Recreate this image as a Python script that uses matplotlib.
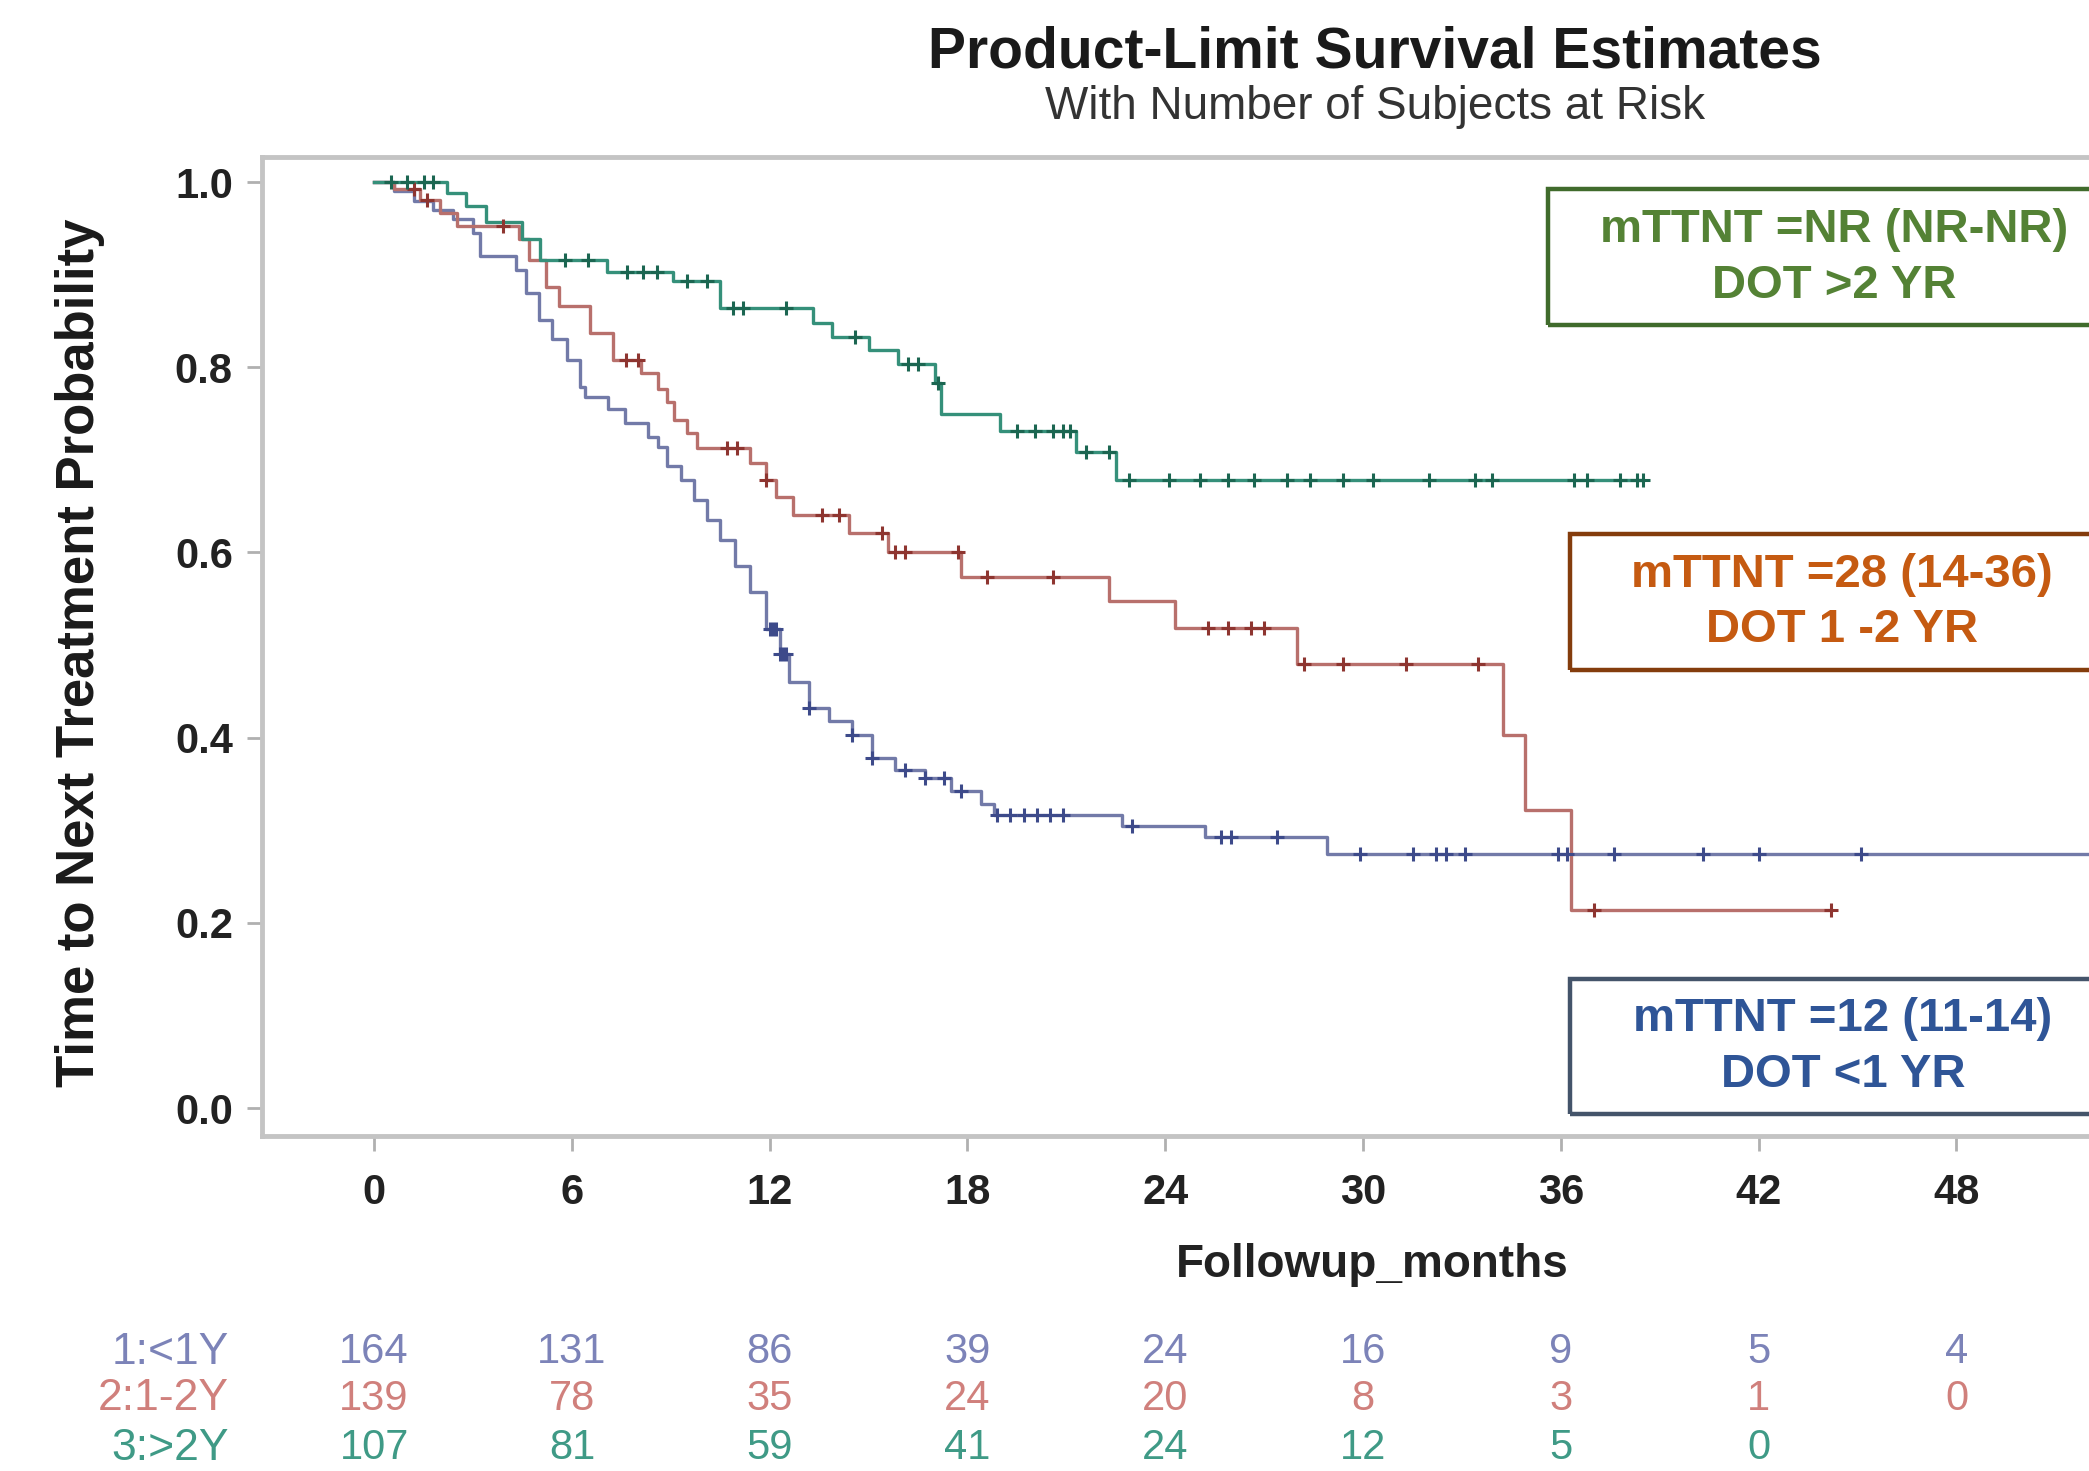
import numpy as np
import matplotlib
matplotlib.use("Agg")
import matplotlib.pyplot as plt
from matplotlib.patches import Rectangle
from matplotlib.transforms import blended_transform_factory

plt.rcParams["font.family"] = ["Liberation Sans", "DejaVu Sans"]

# ── data ────────────────────────────────────────────────────
# 1:<1Y
blue_t = [0, 0.6, 1.2, 1.8, 2.4, 3.0, 3.2, 4.3, 4.6, 5.0, 5.4, 5.85, 6.25, 6.4,
          7.1, 7.6, 8.3, 8.6, 8.9, 9.3, 9.7, 10.1, 10.5, 10.95, 11.4, 11.9,
          12.3, 12.6, 13.2, 13.8, 14.5, 15.1, 15.8, 16.7, 17.5, 18.4, 18.8,
          22.7, 25.2, 28.9]
blue_s = [1.0, 0.99, 0.98, 0.97, 0.96, 0.945, 0.92, 0.905, 0.88, 0.851, 0.83,
          0.808, 0.779, 0.768, 0.755, 0.74, 0.725, 0.714, 0.693, 0.678, 0.657,
          0.635, 0.614, 0.585, 0.557, 0.517, 0.49, 0.46, 0.432, 0.418, 0.403,
          0.378, 0.365, 0.356, 0.342, 0.328, 0.317, 0.305, 0.293, 0.275]
blue_end = 54
blue_cens = [12.0, 12.1, 12.2, 12.3, 12.4, 12.5, 13.2, 14.5, 15.1, 16.1, 16.7,
             17.3, 17.8, 18.9, 19.3, 19.7, 20.1, 20.5, 20.9, 23.0, 25.7, 26.0,
             27.4, 29.9, 31.5, 32.2, 32.5, 33.1, 35.9, 36.2, 37.6, 40.3, 42.0,
             45.1]

# 2:1-2Y
red_t = [0, 0.6, 1.4, 2.0, 2.5, 4.4, 4.7, 5.2, 5.6, 6.55, 7.25, 8.1, 8.6, 8.9,
         9.1, 9.5, 9.8, 11.4, 11.9, 12.2, 12.7, 14.4, 15.6, 17.8, 22.3, 24.3,
         28.0, 34.25, 34.9, 36.3]
red_s = [1.0, 0.992, 0.981, 0.967, 0.952, 0.938, 0.916, 0.887, 0.866, 0.837,
         0.808, 0.794, 0.776, 0.762, 0.743, 0.729, 0.713, 0.697, 0.678, 0.66,
         0.641, 0.621, 0.60, 0.574, 0.548, 0.519, 0.48, 0.403, 0.322, 0.214]
red_end = 44.2
red_cens = [1.2, 1.6, 3.9, 7.65, 8.0, 10.7, 11.0, 11.9, 13.6, 14.1, 15.4, 15.8,
            16.1, 17.7, 18.6, 20.6, 25.3, 25.9, 26.6, 27.0, 28.2, 29.4, 31.3,
            33.5, 37.0, 44.2]

# 3:>2Y
green_t = [0, 2.2, 2.8, 3.4, 4.5, 5.03, 7.06, 9.07, 10.5, 13.3, 13.9, 15.0,
           15.9, 17.0, 17.2, 19.0, 21.3, 22.5]
green_s = [1.0, 0.988, 0.974, 0.957, 0.938, 0.916, 0.903, 0.893, 0.864, 0.848,
           0.833, 0.819, 0.803, 0.783, 0.749, 0.731, 0.708, 0.678]
green_end = 38.5
green_cens = [0.5, 1.0, 1.5, 1.8, 5.8, 6.5, 7.66, 8.17, 8.57, 9.48, 10.1, 10.9,
              11.2, 12.5, 14.6, 16.2, 16.5, 17.1, 19.5, 20.05, 20.6, 20.9,
              21.1, 21.6, 22.3, 22.9, 24.1, 25.05, 25.9, 26.7, 27.7, 28.4, 29.4,
              30.3, 32.0, 33.4, 33.9, 36.4, 36.8, 37.8, 38.3, 38.5]

# number at risk
risk_times = [0, 6, 12, 18, 24, 30, 36, 42, 48]
risk_labels = ["1:<1Y", "2:1-2Y", "3:>2Y"]
risk_blue = [164, 131, 86, 39, 24, 16, 9, 5, 4]
risk_red = [139, 78, 35, 24, 20, 8, 3, 1, 0]
risk_green = [107, 81, 59, 41, 24, 12, 5, 0, None]

x_ticks = [0, 6, 12, 18, 24, 30, 36, 42, 48]
y_ticks = [0.0, 0.2, 0.4, 0.6, 0.8, 1.0]

annotations = [
    ("mTTNT =NR (NR-NR)", "DOT >2 YR", "#548235", "#406b2c"),
    ("mTTNT =28 (14-36)", "DOT 1 -2 YR", "#c55a11", "#843c0c"),
    ("mTTNT =12 (11-14)", "DOT <1 YR", "#2f5597", "#44546a"),
]

# ── figure ──────────────────────────────────────────────────
W, H = 2089, 1471
fig = plt.figure(figsize=(W / 100, H / 100), dpi=100)


def fx(px):
    return px / W


def fy(py):
    return 1 - py / H


ax = fig.add_axes([fx(262), fy(1136), fx(2120 - 262), (1136 - 157) / H])
ax.set_xlim(-3.4, 52.96)
ax.set_ylim(-0.030, 1.027)

curves = [
    (blue_t, blue_s, blue_end, blue_cens, "#727aa8", "#3d4a8a"),
    (red_t, red_s, red_end, red_cens, "#b8706c", "#8e3530"),
    (green_t, green_s, green_end, green_cens, "#35907a", "#1b6651"),
]
for t, s, t_end, cens, lc, mc in curves:
    t_arr = np.array(t + [t_end])
    s_arr = np.array(s + [s[-1]])
    ax.step(t_arr, s_arr, where="post", color=lc, lw=2.4, zorder=3)
    idx = np.searchsorted(np.array(t), np.array(cens), side="right") - 1
    ax.plot(cens, np.array(s)[idx], ls="none", marker="+", ms=10, mew=2.2,
            color=mc, zorder=4)

for side in ["left", "bottom", "top", "right"]:
    ax.spines[side].set_color("#c4c4c4")
    ax.spines[side].set_linewidth(3.5)

ax.set_xticks(x_ticks)
ax.set_yticks(y_ticks)
ax.set_yticklabels([f"{v:.1f}" for v in y_ticks])
ax.tick_params(axis="both", colors="#b0b0b0", width=2, length=11,
               labelcolor="#222222", labelsize=30)
ax.tick_params(axis="y", pad=10)
ax.tick_params(axis="x", pad=16)
for lab in ax.get_xticklabels() + ax.get_yticklabels():
    lab.set_fontweight("bold")

# titles and axis labels
fig.text(fx(1375), fy(53), "Product-Limit Survival Estimates", ha="center",
         va="center", fontsize=41, fontweight="bold", color="#1a1a1a")
fig.text(fx(1375), fy(107), "With Number of Subjects at Risk", ha="center",
         va="center", fontsize=33, color="#333333")
fig.text(fx(1372), fy(1265), "Followup_months", ha="center", va="center",
         fontsize=33, fontweight="bold", color="#222222")
fig.text(fx(80), fy(653), "Time to Next Treatment Probability", ha="center",
         va="center", rotation=90, fontsize=38, fontweight="bold",
         color="#1a1a1a")

# number-at-risk table
tr = blended_transform_factory(ax.transData, fig.transFigure)
row_y = [fy(1352), fy(1399), fy(1448)]
row_col = ["#7c83b8", "#d0807c", "#3f9a86"]
for vals, y, c, lab in zip([risk_blue, risk_red, risk_green], row_y, row_col,
                           risk_labels):
    fig.text(fx(229), y, lab, ha="right", va="center", fontsize=32, color=c)
    for t, v in zip(risk_times, vals):
        if v is None:
            continue
        ax.text(t, y, str(v), transform=tr, ha="center", va="center",
                fontsize=30, color=c, clip_on=False)

# annotation boxes
boxes = [(1548, 189, 325, 1834, 230, 286),
         (1570, 534, 670, 1842, 575, 630),
         (1570, 979, 1114, 1843, 1019, 1075)]
for (l1, l2, tc, bc), (bx, btop, bbot, cx, y1, y2) in zip(annotations, boxes):
    fig.patches.append(Rectangle((fx(bx), fy(bbot)), fx(700),
                                 (bbot - btop) / H, transform=fig.transFigure,
                                 fill=False, edgecolor=bc, lw=3.2, zorder=5))
    fig.text(fx(cx), fy(y1), l1, ha="center", va="center", fontsize=34,
             fontweight="bold", color=tc)
    fig.text(fx(cx), fy(y2), l2, ha="center", va="center", fontsize=34,
             fontweight="bold", color=tc)

fig.savefig("out.png", dpi=100, facecolor="white")
